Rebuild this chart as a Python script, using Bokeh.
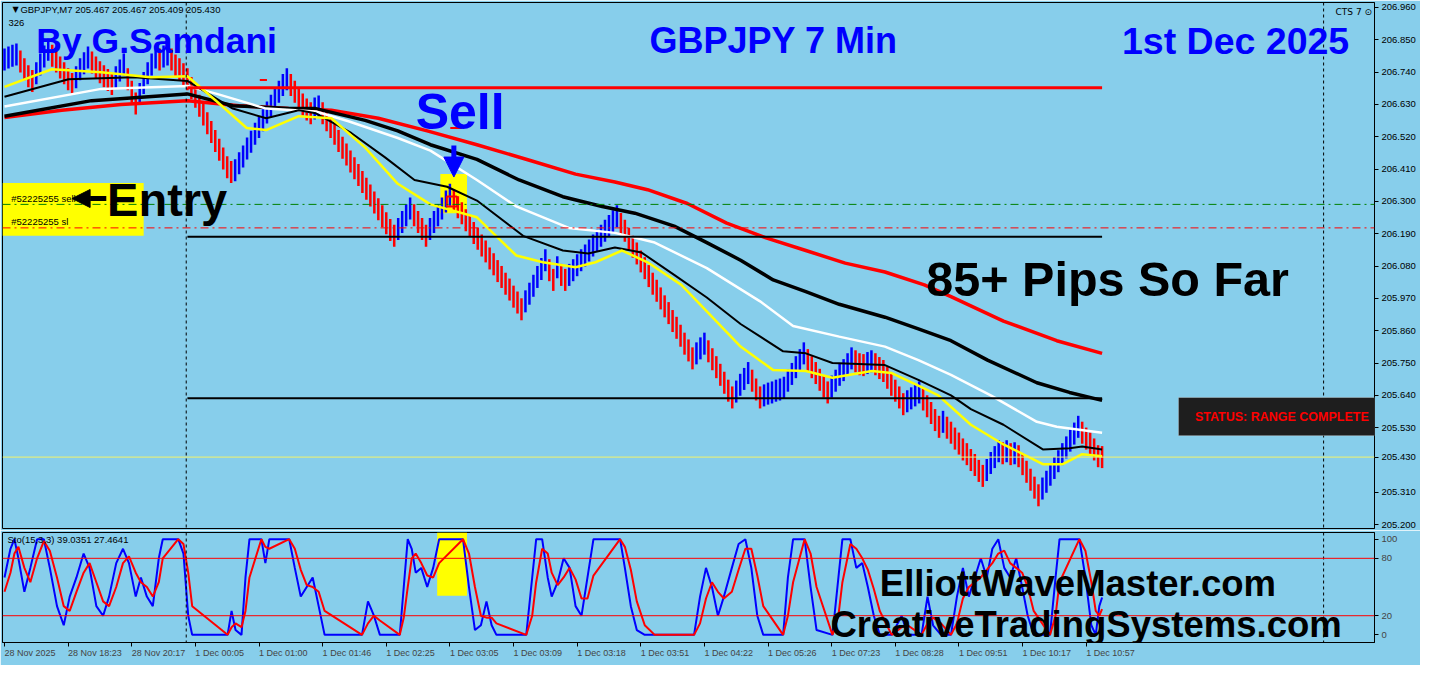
from bokeh.plotting import figure
from bokeh.models import (Range1d, FixedTicker, Span, Label, BoxAnnotation, Arrow,
                          NormalHead, PrintfTickFormatter)
from bokeh.layouts import column
from bokeh.embed import file_html
from bokeh.resources import INLINE

# ---------------- data ----------------
mid = [
 206.783,206.790,206.796,206.800,206.776,206.750,206.726,206.710,206.736,206.766,
 206.793,206.816,206.796,206.776,206.756,206.736,206.716,206.700,206.723,206.750,
 206.770,206.790,206.773,206.756,206.740,206.726,206.713,206.700,206.723,206.746,
 206.766,206.716,206.673,206.633,206.666,206.703,206.736,206.766,206.790,206.783,
 206.793,206.800,206.783,206.763,206.750,206.733,206.716,206.686,206.656,206.626,
 206.596,206.566,206.536,206.506,206.476,206.446,206.416,206.400,206.406,206.430,
 206.453,206.480,206.503,206.530,206.553,206.576,206.603,206.626,206.650,206.673,
 206.696,206.716,206.696,206.673,206.650,206.630,206.613,206.600,206.616,206.623,
 206.600,206.576,206.553,206.530,206.506,206.483,206.460,206.436,206.413,206.390,
 206.366,206.343,206.320,206.296,206.273,206.250,206.226,206.203,206.183,206.206,
 206.230,206.253,206.276,206.253,206.230,206.206,206.183,206.206,206.230,206.253,
 206.276,206.300,206.323,206.303,206.280,206.260,206.236,206.216,206.193,206.173,
 206.150,206.130,206.106,206.086,206.063,206.043,206.020,206.000,205.976,205.956,
 205.933,205.960,205.986,206.013,206.043,206.070,206.100,206.066,206.033,206.076,
 206.050,206.033,206.050,206.066,206.083,206.100,206.116,206.133,206.150,206.166,
 206.183,206.200,206.216,206.233,206.250,206.223,206.200,206.173,206.146,206.123,
 206.096,206.073,206.046,206.020,205.996,205.970,205.943,205.920,205.893,205.870,
 205.843,205.816,205.793,205.766,205.783,205.800,205.816,205.790,205.763,205.736,
 205.710,205.683,205.656,205.633,205.653,205.676,205.696,205.716,205.690,205.660,
 205.633,205.640,205.646,205.650,205.656,205.660,205.666,205.690,205.713,205.736,
 205.760,205.783,205.760,205.736,205.716,205.693,205.670,205.650,205.670,205.690,
 205.710,205.726,205.746,205.766,205.756,205.746,205.743,205.750,205.756,205.746,
 205.733,205.723,205.700,205.676,205.656,205.633,205.610,205.620,205.630,205.640,
 205.650,205.626,205.603,205.580,205.556,205.533,205.550,205.530,205.513,205.493,
 205.476,205.456,205.440,205.420,205.403,205.383,205.366,205.386,205.410,205.430,
 205.450,205.443,205.450,205.440,205.443,205.433,205.406,205.380,205.353,205.326,
 205.300,205.323,205.346,205.370,205.393,205.416,205.440,205.463,205.486,205.510,
 205.533,205.513,205.493,205.476,205.456,205.433,205.430]

ma_yellow_bar = [0,11.9,24.3,36.8,46,53.4,60.9,65.8,74,82.2,90.7,98.9,107.1,118.8,128.7,135.4,143.6,
                 148.6,155.3,161.7,170.2,176.6,185.1,193.3,201.5,208.2,218.1,223.1,229.8,234.8,243,
                 251.2,261.1,266.1,271,276]
ma_yellow = [206.690,206.750,206.740,206.723,206.726,206.640,206.550,206.543,206.590,206.583,206.483,
             206.360,206.290,206.246,206.116,206.093,206.076,206.093,206.133,206.093,206.016,205.926,
             205.806,205.726,205.723,205.700,205.723,205.716,205.673,205.640,205.540,205.473,205.406,
             205.406,205.440,205.433]
ma_black1_bar = [0,16.1,32.5,46,57.4,65.8,74,78.3,87.2,95.7,103.1,111.3,118.8,130.4,140.4,146.8,153.5,
                 160.2,168.4,176.6,185.1,195.8,201.5,208.2,221.4,229.8,238,243,251.2,261.1,267.8,271,276]
ma_black1 = [206.656,206.716,206.723,206.710,206.616,206.583,206.610,206.600,206.533,206.450,206.373,
             206.350,206.303,206.183,206.133,206.123,206.143,206.126,206.050,205.973,205.883,205.790,
             205.783,205.750,205.743,205.693,205.640,205.593,205.540,205.456,205.460,205.466,205.456]
ma_white_bar = [0,24.3,46,53.4,65.8,78.3,86.5,98.9,107.1,118.8,128.7,141.9,153.5,163.5,176.6,190,198.3,
                209.9,221.4,229.8,238,248,259.6,264.6,276]
ma_white = [206.623,206.683,206.693,206.666,206.616,206.606,206.573,206.516,206.473,206.373,206.283,
            206.210,206.193,206.160,206.073,205.960,205.876,205.840,205.806,205.760,205.710,205.640,
            205.550,205.533,205.513]
ma_black2_bar = [0,21.9,46,57.4,71.5,78.3,90.7,98.9,107.1,118.8,129.4,140.4,150.3,158.5,168.4,176.6,
                 185.1,193.3,201.5,209.9,221.4,229.8,238,247.2,259.6,267.8,276]
ma_black2 = [206.590,206.643,206.666,206.626,206.616,206.616,206.576,206.540,206.493,206.443,206.373,
             206.316,206.283,206.260,206.216,206.160,206.100,206.033,205.993,205.950,205.906,205.866,
             205.826,205.760,205.683,205.650,205.623]
ma_red_bar = [0,14.4,29.3,46,59,71.5,82.2,94,106.3,118.8,132,143.6,153.5,161.7,171.7,181.6,191.5,201.5,
              211.4,221.4,231.3,238,251.2,264.6,276]
ma_red = [206.586,206.610,206.630,206.643,206.626,206.616,206.610,206.583,206.540,206.493,206.440,
          206.393,206.366,206.340,206.293,206.226,206.176,206.133,206.090,206.060,206.016,205.976,
          205.893,205.826,205.783]

level_price = [206.687, 206.180, 205.630]
level_color = ["#ff0000", "black", "black"]
level_from = [46, 46, 46]
level_to = [276, 276, 276]
entry_price = 206.29
sl_price = 206.21
bid_price = 205.430
separator_bars = [45.7, 331.7]

sto_bar = [0,1.5,2.5,3.5,5,6.5,8.2,9.9,11.4,13.2,14.9,16.4,18.1,19.9,21.4,23.1,24.8,26.3,28.1,29.8,
           31.3,33,34.3,35.8,37.3,38.8,39.8,43.7,45,46.2,47.2,56.1,57.1,58.1,59.6,60.6,61.6,64.6,65.6,
           66.6,71.6,73,74.5,76,77.5,79,80.5,89.9,91.4,92.9,94.4,99.4,100.4,101.4,102.4,103.4,104.8,
           106.3,107.8,109.3,115.3,116.8,118.3,119.8,121.2,122.5,123.7,131.2,132.7,133.7,135.2,136.6,
           137.6,139.1,140.6,142.1,143.6,145.1,146.6,148.1,154.8,156,157.5,159,161,163.5,173.4,174.9,
           176.4,177.9,179.4,180.9,182.9,184.6,186.3,187.8,189.3,190.8,195.8,197,198.3,201.2,202.7,
           204.2,208.2,209.7,210.7,212.7,214.2,215.7,217.1,218.6,220.1,223.1,225.6,227.1,230.6,232.1,
           233.5,235.5,238,239.5,241,242.5,244,245.5,247,248.4,249.9,251.4,252.9,254.4,255.9,257.3,
           258.8,262.9,264.3,265.3,270.3,271.8,273.3,274.4,275.3,276]
sto_k = [60,90,100,80,45,70,100,100,70,30,10,40,60,85,70,30,20,40,75,90,75,40,60,40,30,80,100,100,85,
         20,0,0,25,5,0,60,100,100,75,100,100,70,40,50,60,30,0,0,35,20,0,0,50,100,90,65,70,50,70,100,
         100,50,5,10,35,10,0,0,60,100,100,60,40,55,80,70,30,20,60,100,100,70,30,5,0,0,0,40,70,50,20,
         40,70,95,100,70,20,0,0,60,100,100,50,5,0,60,100,100,70,75,50,20,0,0,20,0,0,40,10,0,0,40,70,
         40,60,80,60,90,100,70,60,80,50,20,0,0,60,100,100,60,10,0,30,39]
sto_d = [45,65,85,92,70,55,80,98,88,60,30,25,45,65,75,55,35,30,50,75,82,65,55,50,40,55,80,100,95,
         65,30,0,8,12,8,25,60,100,92,90,100,90,68,52,50,45,25,0,12,20,15,0,18,50,80,85,75,62,60,75,
         100,85,50,20,18,18,12,0,20,55,90,85,65,52,60,70,58,38,38,62,100,92,68,35,10,0,0,12,38,55,45,
         38,45,68,90,90,62,30,0,20,55,100,85,50,0,20,55,95,90,80,68,48,25,0,8,10,0,12,18,12,0,12,38,
         50,55,60,68,75,85,88,75,70,65,50,25,0,20,55,100,88,55,25,20,27]

price_ticks = [205.20,205.31,205.43,205.53,205.64,205.75,205.86,205.97,206.08,206.19,206.30,
               206.41,206.52,206.63,206.74,206.85,206.96]
time_labels = ["28 Nov 2025","28 Nov 18:23","28 Nov 20:17","1 Dec 00:05","1 Dec 01:00","1 Dec 01:46",
               "1 Dec 02:25","1 Dec 03:05","1 Dec 03:09","1 Dec 03:18","1 Dec 03:51","1 Dec 04:22",
               "1 Dec 05:26","1 Dec 07:23","1 Dec 08:28","1 Dec 09:51","1 Dec 10:17","1 Dec 10:57"]
time_tick_bars = [16 * i for i in range(len(time_labels))]
sto_levels = [80, 20]
sto_ticks = [0, 20, 80, 100]

# ---------------- styling ----------------
BG = "#87ceeb"
FONT = "Liberation Sans"
XR = Range1d(-0.5, 344.5)

p = figure(frame_width=1372, frame_height=526, x_range=XR, y_range=Range1d(205.187, 206.977),
           output_backend="svg", toolbar_location=None, x_axis_location=None, y_axis_location="right",
           min_border_left=2, min_border_right=46, min_border_top=2, min_border_bottom=2,
           background_fill_color=BG, border_fill_color=BG, outline_line_color="black")
p.grid.visible = False
ya = p.yaxis[0]
ya.ticker = FixedTicker(ticks=price_ticks)
ya.formatter = PrintfTickFormatter(format="%.3f")
ya.major_label_text_font = FONT
ya.major_label_text_font_size = "9.5px"
ya.major_label_text_color = "black"
ya.major_tick_out = 4
ya.major_tick_in = 0
ya.minor_tick_out = 0
ya.minor_tick_in = 0
ya.major_label_standoff = 3
ya.axis_line_color = "black"

p.add_layout(BoxAnnotation(left=-0.5, right=35.0, top=206.363, bottom=206.183, fill_color="#ffff00",
                           fill_alpha=1, line_color=None, level="underlay"))
p.add_layout(BoxAnnotation(left=109.6, right=116.3, top=206.393, bottom=206.26, fill_color="#ffff00",
                           fill_alpha=1, line_color=None, level="underlay"))

for b in separator_bars:
    p.add_layout(Span(location=b, dimension="height", line_color="black", line_dash="3 3", line_width=1))

xs = list(range(len(mid)))
colors = ["#0000ff" if i == 0 or mid[i] >= mid[i - 1] else "#ff0000" for i in xs]
p.rect(x=xs, y=mid, width=2.5, height=22, width_units="screen", height_units="screen",
       fill_color=colors, line_color=None)

p.line(ma_red_bar, ma_red, line_color="#ff0000", line_width=3.5)
p.line(ma_black2_bar, ma_black2, line_color="black", line_width=3.5)
p.line(ma_white_bar, ma_white, line_color="white", line_width=2.5)
p.line(ma_black1_bar, ma_black1, line_color="black", line_width=2)
p.line(ma_yellow_bar, ma_yellow, line_color="#ffff00", line_width=2.5)

p.segment(x0=level_from, y0=level_price, x1=level_to, y1=level_price, line_color=level_color,
          line_width=[3, 2, 2])
p.add_layout(Span(location=entry_price, dimension="width", line_color="#008000", line_dash="8 4 2 4", line_width=1))
p.add_layout(Span(location=sl_price, dimension="width", line_color="#ff0000", line_dash="8 4 2 4", line_width=1))
p.add_layout(Span(location=bid_price, dimension="width", line_color="#f4f46a", line_width=1))

p.scatter([112.5], [entry_price + 0.01], marker="square", size=10, fill_color=None, line_color="#ff0000", line_width=2)
p.segment(x0=[112.1, 64.2], y0=[206.55, 206.713], x1=[115.0, 66.0], y1=[206.55, 206.713], line_color="#ff0000", line_width=2)

def lab(fig, x, y, text, size, color="black", bold=False, font=FONT, baseline="middle", align="left", **kw):
    fig.add_layout(Label(x=x, y=y, text=text, text_font=font, text_font_size=size, text_color=color,
                         text_font_style="bold" if bold else "normal", text_baseline=baseline,
                         text_align=align, **kw))

lab(p, 2.0, 206.953, "\u25BC", "8px", font="DejaVu Sans")
lab(p, 4.0, 206.953, "GBPJPY,M7  205.467 205.467 205.409 205.430", "9.5px")
lab(p, 1.0, 206.906, "326", "9.5px")
lab(p, 334.7, 206.946, "CTS 7 \u2299", "9px", font="DejaVu Sans")

lab(p, 8.0, 206.846, "By G.Samdani", "35.5px", color="#0000ff", bold=True)
lab(p, 162.2, 206.846, "GBPJPY 7 Min", "36px", color="#0000ff", bold=True)
lab(p, 281.0, 206.846, "1st Dec 2025", "37.5px", color="#0000ff", bold=True)
lab(p, 103.4, 206.603, "Sell", "50px", color="#0000ff", bold=True)
lab(p, 25.8, 206.308, "Entry", "47px", bold=True)
lab(p, 231.8, 206.035, "85+ Pips So Far", "48.5px", bold=True)
lab(p, 1.7, 206.31, "#52225255 sell", "9.5px")
lab(p, 1.7, 206.233, "#52225255 sl", "9.5px")

p.add_layout(Arrow(end=NormalHead(size=20, fill_color="#0000ff", line_color="#0000ff"),
                   x_start=113, y_start=206.49, x_end=113, y_end=206.383,
                   line_color="#0000ff", line_width=5))
p.add_layout(Arrow(end=NormalHead(size=18, fill_color="black", line_color="black"),
                   x_start=25.6, y_start=206.31, x_end=17.0, y_end=206.31,
                   line_color="black", line_width=5))

p.add_layout(BoxAnnotation(left=295.2, right=344.5, top=205.633, bottom=205.503, fill_color="#1e1e1e",
                           fill_alpha=1, line_color="white", line_width=1))
lab(p, 321.2, 205.566, "STATUS: RANGE COMPLETE", "12.5px", color="#ff0000", bold=True, align="center")

# ---------------- oscillator ----------------
q = figure(frame_width=1372, frame_height=110, x_range=XR, y_range=Range1d(-8, 107),
           output_backend="svg", toolbar_location=None, y_axis_location="right",
           min_border_left=2, min_border_right=46, min_border_top=2, min_border_bottom=22,
           background_fill_color=BG, border_fill_color=BG, outline_line_color="black")
q.grid.visible = False
qa = q.yaxis[0]
qa.ticker = FixedTicker(ticks=sto_ticks)
qa.major_label_text_font = FONT
qa.major_label_text_font_size = "9.5px"
qa.major_tick_out = 4
qa.major_tick_in = 0
qa.minor_tick_out = 0
qa.minor_tick_in = 0
qa.major_label_standoff = 3
qa.axis_line_color = "black"
xa = q.xaxis[0]
xa.ticker = FixedTicker(ticks=time_tick_bars)
xa.major_label_overrides = {t: s for t, s in zip(time_tick_bars, time_labels)}
xa.major_label_orientation = -0.0001
xa.major_label_text_font = FONT
xa.major_label_text_font_size = "9px"
xa.major_label_standoff = 6
xa.major_tick_out = 4
xa.major_tick_in = 0
xa.minor_tick_out = 0
xa.minor_tick_in = 0
xa.axis_line_color = "black"

q.add_layout(BoxAnnotation(left=108.8, right=116.3, top=107, bottom=40.8, fill_color="#ffff00",
                           fill_alpha=1, line_color=None, level="underlay"))
for b in separator_bars:
    q.add_layout(Span(location=b, dimension="height", line_color="black", line_dash="3 3", line_width=1))
for lv in sto_levels:
    q.add_layout(Span(location=lv, dimension="width", line_color="#ff0000", line_width=1))

q.line(sto_bar, sto_k, line_color="#0000ff", line_width=2)
q.line(sto_bar, sto_d, line_color="#ff0000", line_width=2)

lab(q, 0.75, 99.4, "Sto(15,3,3) 39.0351 27.4641", "9.5px")
lab(q, 220.1, 53.6, "ElliottWaveMaster.com", "36.5px", bold=True)
lab(q, 207.7, 10.7, "CreativeTradingSystems.com", "36.5px", bold=True)

layout = column(p, q, spacing=0)
open("out.html", "w").write(file_html(layout, INLINE))
